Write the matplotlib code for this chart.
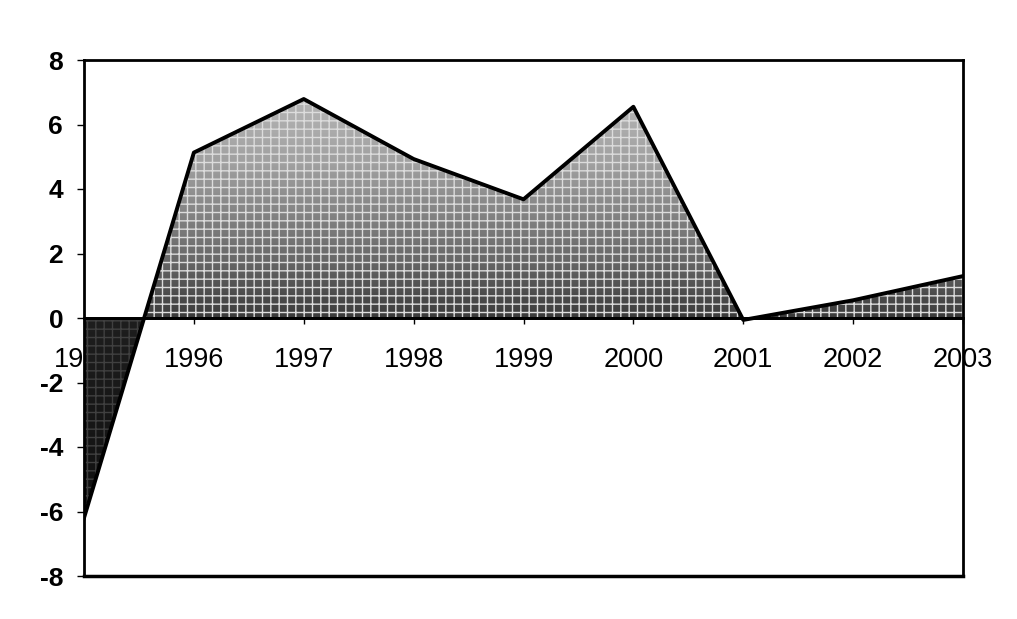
import numpy as np
import matplotlib
matplotlib.use("Agg")
import matplotlib.pyplot as plt
from matplotlib.colors import LinearSegmentedColormap

# data
years = [1995, 1996, 1997, 1998, 1999, 2000, 2001, 2002, 2003]
values = [-6.2, 5.13, 6.79, 4.93, 3.68, 6.55, -0.06, 0.55, 1.3]
y_ticks = [-8, -6, -4, -2, 0, 2, 4, 6, 8]

plt.rcParams['font.family'] = ['Liberation Sans', 'DejaVu Sans']

fig = plt.figure(figsize=(10.17, 6.19), dpi=100)
ax = fig.add_axes([84 / 1017, 1 - 576 / 619, (963 - 84) / 1017, (576 - 60) / 619])

x = np.array(years, dtype=float)
y = np.array(values)

# area outline used as clip path for the fills
poly = ax.fill_between(x, y, 0, facecolor='none', edgecolor='none')
clip = poly.get_paths()[0]

# grey gradient (like the scanned screen tone)
cmap = LinearSegmentedColormap.from_list('scan', [
    (0.0, '#0c0c0c'), (0.5, '#1e1e1e'), (0.5, '#3a3a3a'),
    (0.62, '#6a6a6a'), (0.8, '#a0a0a0'), (1.0, '#c0c0c0')])
grad = np.linspace(-8, 8, 400).reshape(-1, 1)
img = ax.imshow(grad, extent=[x[0], x[-1], -8, 8], origin='lower',
                aspect='auto', cmap=cmap, vmin=-8, vmax=8, zorder=2)
img.set_clip_path(clip, transform=ax.transData)

# texture: light above zero, dark below
top = ax.axhspan(0, 8, facecolor='none', edgecolor='#dcdcdc', hatch='++',
                 linewidth=0, zorder=2.1)
top.set_clip_path(clip, transform=ax.transData)
bot = ax.axhspan(-8, 0, facecolor='none', edgecolor='#404040', hatch='++',
                 linewidth=0, zorder=2.1)
bot.set_clip_path(clip, transform=ax.transData)

ax.plot(x, y, color='black', lw=2.8, zorder=4)
ax.axhline(0, color='black', lw=2, zorder=3)

ax.set_xlim(years[0], years[-1])
ax.set_ylim(-8, 8)

for s in ax.spines.values():
    s.set_linewidth(2)
ax.spines['bottom'].set_position(('data', 0))
ax.plot([years[0], years[-1]], [-8, -8], color='black', lw=2.5,
        clip_on=False, zorder=5)

ax.set_yticks(y_ticks)
ax.set_yticklabels([str(t) for t in y_ticks], fontsize=19, fontweight='bold')
ax.tick_params(axis='y', length=5, width=1, pad=10)

ax.set_xticks(years)
ax.set_xticklabels([str(v) for v in years], fontsize=19.5)
ax.tick_params(axis='x', length=4, width=1, pad=17, direction='out')

fig.savefig('out.png', dpi=100, facecolor='white')
